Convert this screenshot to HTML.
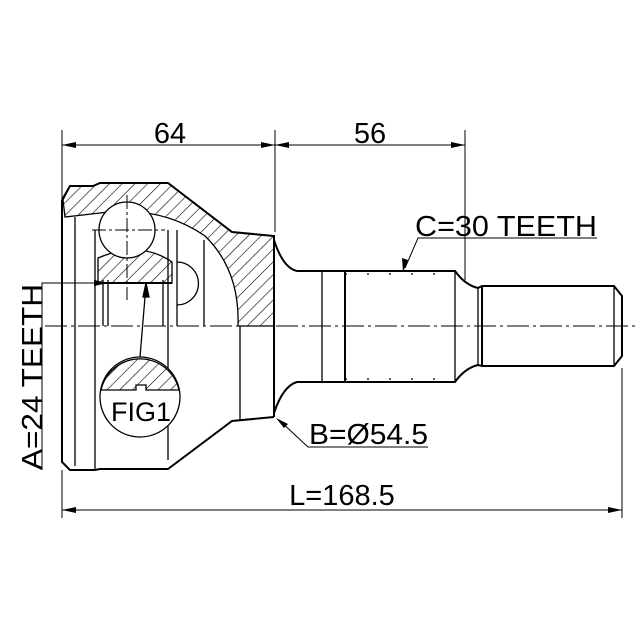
<!DOCTYPE html>
<html><head><style>html,body{margin:0;padding:0;background:#fff}svg{display:block}</style></head>
<body>
<svg width="640" height="640" viewBox="0 0 640 640" xmlns="http://www.w3.org/2000/svg" font-family="Liberation Sans, sans-serif">
<defs>
<pattern id="h" patternUnits="userSpaceOnUse" width="9" height="9" patternTransform="rotate(45)">
<line x1="0" y1="0" x2="0" y2="9" stroke="#000" stroke-width="1.2"/>
</pattern>
</defs>
<g fill="none" stroke="#000" stroke-width="1.3">
<path d="M63,200 L70,186 L93,186 L100,183 L168,183 L232,232 L274,236 L274,326 L238,326 Q240,270 205,236 Q160,205 100,213 L65,217 Z" fill="url(#h)"/>
<path d="M98,258 Q140,240 172,262 L172,283 L98,283 Z" fill="url(#h)"/>
<path d="M62,200 L62,462 L70,470 L95,470 L100,469 L168,469 L232,421 L274,417" stroke-width="2"/>
<path d="M62,200 L70,186 L93,186 L100,183 L168,183 L232,232 L274,236 L274,417" stroke-width="2"/>
<line x1="75" y1="217" x2="75" y2="466"/>
<line x1="95" y1="230" x2="95" y2="469"/>
<line x1="103" y1="280" x2="103" y2="326"/>
<line x1="108" y1="280" x2="108" y2="326"/>
<line x1="163" y1="280" x2="163" y2="326"/>
<line x1="168" y1="230" x2="168" y2="326"/>
<line x1="177" y1="230" x2="177" y2="326"/>
<line x1="168" y1="326" x2="168" y2="460"/>
<line x1="240" y1="326" x2="240" y2="420"/>
<line x1="204" y1="240" x2="204" y2="326"/>
<line x1="98" y1="283" x2="172" y2="283" stroke-width="2"/>
<circle cx="127" cy="230" r="28" fill="#fff"/>
<path d="M177,262 A20,20 0 0 1 177,305"/>
<circle cx="140" cy="397" r="40" fill="#fff"/>
<path d="M101,390 L136,390 L136,385 L146,385 L146,390 L179,390 A40,40 0 0 0 101,390 Z" fill="url(#h)"/>
<line x1="140" y1="357" x2="146" y2="285"/>
<path d="M146,283 L143,297 L149,297 Z" fill="#000"/>
<path d="M274,240 Q283,268 297,271 L345,271 L455,271 Q465,285 478,288 L482,286 L614,286 L622,296 L622,356 L614,366 L482,366 L478,365 Q465,368 455,382 L345,382 L297,382 Q283,386 274,413" stroke-width="2"/>
<line x1="322" y1="271" x2="322" y2="382"/>
<line x1="345" y1="271" x2="345" y2="382" stroke-width="2"/>
<line x1="455" y1="271" x2="455" y2="382"/>
<line x1="478" y1="288" x2="478" y2="365"/>
<line x1="482" y1="286" x2="482" y2="366" stroke-width="2"/>
<line x1="614" y1="286" x2="614" y2="366"/>
<line x1="345" y1="274" x2="455" y2="274" stroke-dasharray="2,20"/>
<line x1="345" y1="379" x2="455" y2="379" stroke-dasharray="2,20"/>
<line x1="45" y1="326" x2="636" y2="326" stroke-width="1" stroke-dasharray="22,4,3,4"/>
<line x1="127" y1="195" x2="127" y2="300" stroke-width="1" stroke-dasharray="14,3,3,3"/>
<line x1="92" y1="230" x2="165" y2="230" stroke-width="1" stroke-dasharray="14,3,3,3"/>
<g stroke-width="1">
<line x1="62" y1="130" x2="62" y2="200"/>
<line x1="62" y1="470" x2="62" y2="518"/>
<line x1="275" y1="130" x2="275" y2="232"/>
<line x1="465" y1="130" x2="465" y2="280"/>
<line x1="622" y1="368" x2="622" y2="518"/>
<line x1="62" y1="145" x2="465" y2="145"/>
<line x1="62" y1="510" x2="622" y2="510"/>
<polyline points="108,283 42,283 42,470"/>
<polyline points="597,238 418,238 405,268"/>
<polyline points="428,447 308,447 279,420"/>
</g>
</g>
<g fill="#000">
<path d="M62,145 L76,142 L76,148 Z"/><path d="M275,145 L261,142 L261,148 Z"/>
<path d="M275,145 L289,142 L289,148 Z"/><path d="M465,145 L451,142 L451,148 Z"/>
<path d="M62,510 L76,507 L76,513 Z"/><path d="M622,510 L608,507 L608,513 Z"/>
<path d="M108,283 L94,280 L94,286 Z"/>
<path d="M403,272 L402,258 L408,260 Z"/>
<path d="M276,418 L288,424 L284,428 Z"/>
</g>
<g font-size="29" fill="#000">
<text x="170" y="143" text-anchor="middle">64</text>
<text x="370" y="143" text-anchor="middle">56</text>
<text x="342" y="505" text-anchor="middle">L=168.5</text>
<text x="415" y="236" textLength="182" lengthAdjust="spacingAndGlyphs">C=30 TEETH</text>
<text x="309" y="444" textLength="119" lengthAdjust="spacingAndGlyphs">B=Ø54.5</text>
<text x="141" y="421" text-anchor="middle" font-size="27">FIG1</text>
<text transform="translate(42,377) rotate(-90)" text-anchor="middle" textLength="186" lengthAdjust="spacingAndGlyphs">A=24 TEETH</text>
</g>
</svg>
</body></html>
